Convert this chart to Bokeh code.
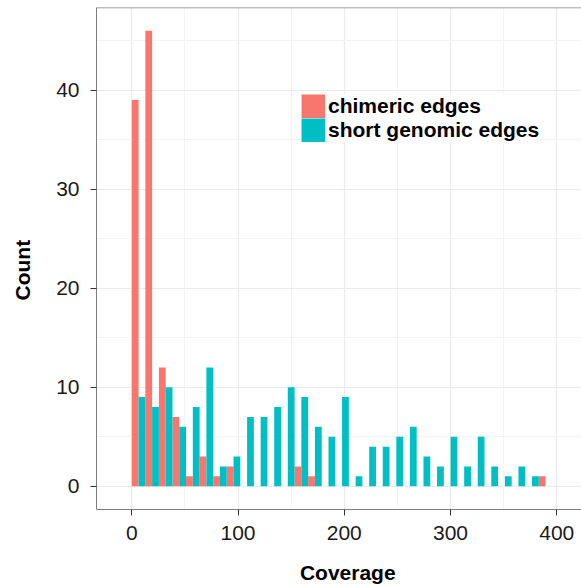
from bokeh.plotting import figure
from bokeh.models import Range1d, FixedTicker, Span, Legend, LegendItem, ColumnDataSource
from bokeh.embed import file_html
from bokeh.resources import INLINE

# ---- data (histogram of coverage, dodged) ----
bin_width = 12.77
bin_index = list(range(-1, 32))            # bin k covers [k*w, (k+1)*w)
chimeric = [0, 39, 46, 12, 7, 1, 3, 1, 2, 0, 0, 0, 0, 2, 1, 0, 0,
            0, 0, 0, 0, 0, 0, 0, 0, 0, 0, 0, 0, 0, 0, 1, 0]
genomic = [0, 9, 8, 10, 6, 8, 12, 2, 3, 7, 7, 8, 10, 9, 6, 5, 9,
           1, 4, 4, 5, 6, 3, 2, 5, 2, 5, 2, 1, 2, 1, 0, 0]
series_names = ["chimeric edges", "short genomic edges"]
series_colors = ["#F8766D", "#00BFC4"]
x_ticks = [0, 100, 200, 300, 400]
x_minor = [50, 150, 250, 350]
y_ticks = [0, 10, 20, 30, 40]
y_minor = [5, 15, 25, 35, 45]
x_title = "Coverage"
y_title = "Count"

FONT = "Liberation Sans"
Y_TOP = 48.35
NB = "\u00a0"

p = figure(width=581, height=586, output_backend="svg", toolbar_location=None,
           x_range=Range1d(-33.2, 423.3), y_range=Range1d(-2.35, Y_TOP),
           min_border_left=96, min_border_right=0, min_border_top=7,
           min_border_bottom=77)
p.outline_line_color = None
p.background_fill_color = "white"

lefts = [k * bin_width for k in bin_index]
src = ColumnDataSource(dict(
    xc=[l + bin_width * 0.25 for l in lefts],
    xg=[l + bin_width * 0.75 for l in lefts],
    c=chimeric, g=genomic))

p.vbar(x="xc", top="c", width=bin_width / 2, bottom=0, source=src,
       fill_color=series_colors[0], line_color=None)
p.vbar(x="xg", top="g", width=bin_width / 2, bottom=0, source=src,
       fill_color=series_colors[1], line_color=None)

# legend proxies (single-point thick line -> nothing in plot, solid square key)
k1 = p.line(x=[x_ticks[0]], y=[y_ticks[0]], line_color=series_colors[0],
            line_width=24, line_cap="butt")
k2 = p.line(x=[x_ticks[0]], y=[y_ticks[0]], line_color=series_colors[1],
            line_width=24, line_cap="butt")
legend = Legend(items=[LegendItem(label=series_names[0], renderers=[k1]),
                       LegendItem(label=series_names[1], renderers=[k2])],
                location=(205, 367), orientation="vertical",
                glyph_width=24, glyph_height=24, label_height=24, label_width=10,
                spacing=0, padding=2, margin=0, label_standoff=3,
                label_text_font=FONT, label_text_font_size="21px",
                label_text_font_style="bold", label_text_color="black",
                label_text_baseline="middle",
                background_fill_color="white", background_fill_alpha=1.0,
                border_line_color=None)
p.add_layout(legend)

# grids
for ax_grid, maj, mnr in ((p.xgrid, x_ticks, x_minor), (p.ygrid, y_ticks, y_minor)):
    ax_grid.ticker = FixedTicker(ticks=maj, minor_ticks=mnr)
    ax_grid.grid_line_color = "#ebebeb"
    ax_grid.grid_line_width = 1.2
    ax_grid.minor_grid_line_color = "#f4f4f4"
    ax_grid.minor_grid_line_width = 1

# axes
p.xaxis.ticker = FixedTicker(ticks=x_ticks, minor_ticks=x_minor)
p.yaxis.ticker = FixedTicker(ticks=y_ticks, minor_ticks=y_minor)
# non-breaking padding nudges the centred titles to where ggplot put them
p.xaxis.axis_label = NB * 3 + x_title
p.yaxis.axis_label = y_title + NB * 4
for ax in (p.xaxis[0], p.yaxis[0]):
    ax.axis_line_color = "#7f7f7f"
    ax.axis_line_width = 1
    ax.major_tick_line_color = "#333333"
    ax.major_tick_line_width = 1
    ax.major_tick_in = 0
    ax.major_tick_out = 6
    ax.minor_tick_line_color = None
    ax.major_label_text_font = FONT
    ax.major_label_text_font_size = "21px"
    ax.major_label_text_color = "#1a1a1a"
    ax.axis_label_text_font = FONT
    ax.axis_label_text_font_size = "21px"
    ax.axis_label_text_font_style = "bold"
    ax.axis_label_text_color = "black"
p.xaxis.major_label_standoff = 10
p.xaxis.axis_label_standoff = 18
p.yaxis.major_label_standoff = 11
p.yaxis.axis_label_standoff = 19

top_border = Span(location=Y_TOP, dimension="width", line_color="#7f7f7f", line_width=1.5)
p.add_layout(top_border)

open("out.html", "w").write(file_html(p, INLINE))
